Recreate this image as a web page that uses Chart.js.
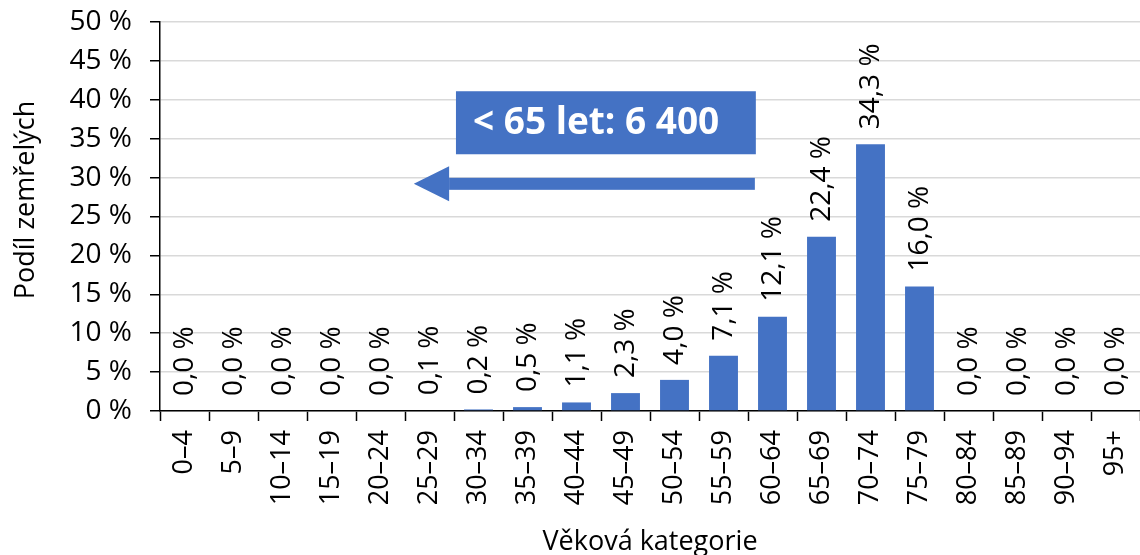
<!DOCTYPE html>
<html>
<head>
<meta charset="utf-8">
<script src="https://cdn.jsdelivr.net/npm/chart.js@4/dist/chart.umd.min.js"></script>
<style>
  html, body { margin: 0; padding: 0; background: #fff; }
  #wrap { width: 1140px; height: 555px; }
</style>
</head>
<body>
<div id="wrap"><canvas id="c" width="1140" height="555"></canvas></div>
<script>
const categories = ["0–4","5–9","10–14","15–19","20–24","25–29","30–34","35–39","40–44","45–49","50–54","55–59","60–64","65–69","70–74","75–79","80–84","85–89","90–94","95+"];
const shares = [0.0, 0.0, 0.0, 0.0, 0.0, 0.1, 0.2, 0.5, 1.1, 2.3, 4.0, 7.1, 12.1, 22.4, 34.3, 16.0, 0.0, 0.0, 0.0, 0.0];
const yTicks = [0, 5, 10, 15, 20, 25, 30, 35, 40, 45, 50];
const yTitle = "Podíl zemřelých";
const xTitle = "Věková kategorie";
const noteText = "< 65 let: 6 400";

const FONT = "'Open Sans', 'Noto Sans', sans-serif";
const BLUE = "#4472C4";

function fmt(v) { return v.toFixed(1).replace('.', ',') + ' %'; }

const overlay = {
  id: 'overlay',
  afterDatasetsDraw(chart) {
    const ctx = chart.ctx;
    const xs = chart.scales.x, ys = chart.scales.y;
    // data labels
    const meta = chart.getDatasetMeta(0);
    ctx.save();
    ctx.fillStyle = '#000';
    ctx.font = "28px " + FONT;
    ctx.textAlign = 'left';
    ctx.textBaseline = 'middle';
    meta.data.forEach((bar, i) => {
      ctx.save();
      ctx.translate(bar.x, bar.y - 15);
      ctx.rotate(-Math.PI / 2);
      ctx.fillText(fmt(shares[i]), 0, 1);
      ctx.restore();
    });
    ctx.restore();

    // annotation: box + arrow, placed in data space
    const c0 = xs.getPixelForValue(0), c1 = xs.getPixelForValue(1);
    const px = v => c0 + v * (c1 - c0);
    const bx0 = px(5.54), bx1 = px(11.66);
    const by0 = ys.getPixelForValue(41.1), by1 = ys.getPixelForValue(33.0);
    ctx.save();
    ctx.fillStyle = BLUE;
    ctx.fillRect(bx0, by0, bx1 - bx0, by1 - by0);
    ctx.fillStyle = '#fff';
    ctx.font = "bold 37px " + FONT;
    ctx.textAlign = 'left';
    ctx.textBaseline = 'middle';
    ctx.fillText(noteText, bx0 + 17, (by0 + by1) / 2 + 1);

    const ay = ys.getPixelForValue(29.2);
    const tip = px(4.68), base = px(5.40), end = px(11.64);
    ctx.fillStyle = BLUE;
    ctx.fillRect(base, ay - 6, end - base, 12);
    ctx.beginPath();
    ctx.moveTo(tip, ay);
    ctx.lineTo(base, ay - 17.5);
    ctx.lineTo(base, ay + 17.5);
    ctx.closePath();
    ctx.fill();
    ctx.restore();
  },
  afterDraw(chart) {
    const ctx = chart.ctx;
    const area = chart.chartArea;
    ctx.save();
    ctx.fillStyle = '#000';
    ctx.font = "27px " + FONT;
    ctx.textAlign = 'center';
    ctx.textBaseline = 'alphabetic';
    ctx.fillText(xTitle, (area.left + area.right) / 2, 550);
    ctx.translate(34, 200);
    ctx.rotate(-Math.PI / 2);
    ctx.fillText(yTitle, 0, 0);
    ctx.restore();
  }
};

new Chart(document.getElementById('c'), {
  type: 'bar',
  data: {
    labels: categories,
    datasets: [{
      data: shares,
      backgroundColor: BLUE,
      borderWidth: 0,
      barPercentage: 0.59,
      categoryPercentage: 1.0
    }]
  },
  options: {
    responsive: false,
    devicePixelRatio: 1,
    animation: false,
    layout: { padding: { top: 22, left: 0, right: 0, bottom: 0 } },
    plugins: { legend: { display: false }, tooltip: { enabled: false }, title: { display: false } },
    scales: {
      x: {
        offset: true,
        grid: { display: true, drawOnChartArea: false, tickLength: 10, tickColor: '#000', tickWidth: 1.5, offset: true },
        border: { color: '#000', width: 1.5 },
        ticks: {
          color: '#000',
          font: { family: FONT, size: 27 },
          minRotation: 90, maxRotation: 90,
          padding: 9,
          autoSkip: false
        },
        afterFit(s) { s.height = 144; s.paddingLeft = 0; s.paddingRight = 0; }
      },
      y: {
        min: 0, max: 50,
        afterBuildTicks(s) { s.ticks = yTicks.map(v => ({ value: v })); },
        grid: { color: '#d9d9d9', lineWidth: 1.5, tickLength: 10, tickColor: '#000', tickWidth: 1.5 },
        border: { color: '#000', width: 1.5 },
        ticks: {
          color: '#000',
          font: { family: FONT, size: 28 },
          padding: 18,
          callback: v => v + ' %'
        },
        afterFit(s) { s.width = 160; s.paddingTop = 0; s.paddingBottom = 0; }
      }
    }
  },
  plugins: [overlay]
});
</script>
</body>
</html>
